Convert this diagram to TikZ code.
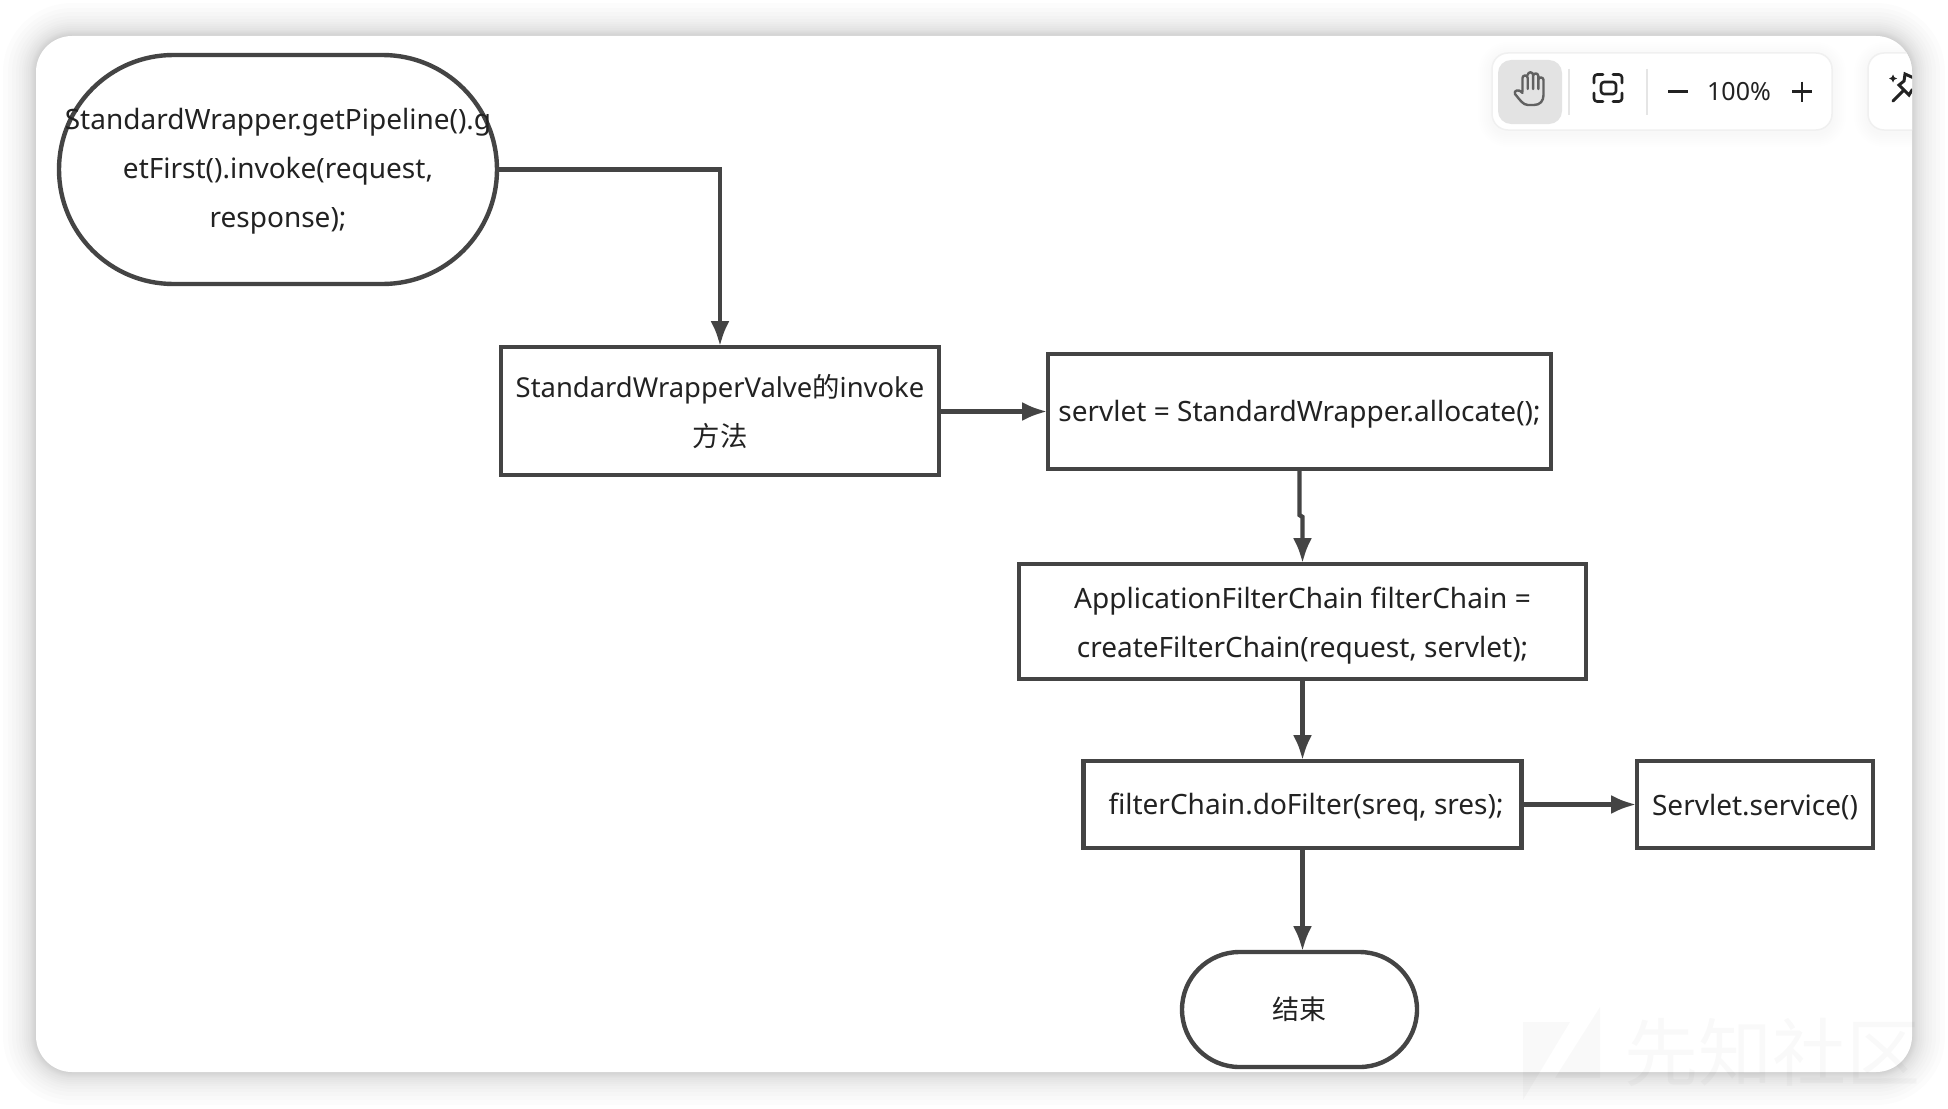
\documentclass[tikz,border=0pt]{standalone}
\usepackage{fontspec}
\setmainfont{Noto Sans}
\newfontfamily\cjk{Noto Sans CJK SC}
\usetikzlibrary{arrows.meta,shapes.misc}
\definecolor{flowline}{HTML}{444444}
\definecolor{flowtext}{HTML}{222222}
\definecolor{iconink}{HTML}{222222}
\newcommand\flowtxt[2][-2.5pt]{\raisebox{#1}[\height][\depth]{#2}}
\tikzset{
  flowbox/.style={draw=flowline,line width=4.4pt,fill=white,rectangle,inner sep=0pt,text=flowtext,align=center,
    font=\fontsize{28}{49}\selectfont},
  flowround/.style={draw=flowline,line width=4.4pt,fill=white,rounded rectangle,inner sep=0pt,text=flowtext},
  flowlabel/.style={inner sep=0pt,text=flowtext,align=center,font=\fontsize{28}{49}\selectfont},
  flowarrow/.style={draw=flowline,line width=4.4pt,line join=miter,shorten >=-1.4pt,-{Latex[length=25pt,width=19pt]}},
  iconstroke/.style={draw=iconink,line width=2.6pt,line cap=round,line join=round},
  toolbarbox/.style={fill=white,draw=black!6,line width=1.5pt,rounded corners=16pt},
  toolsep/.style={draw=black!10,line width=2pt},
}
\begin{document}
\begin{tikzpicture}[x=1pt,y=-1pt]
\useasboundingbox (0,0) rectangle (1948,1108);
\clip (0,0) rectangle (1948,1108);
\fill[white] (0,0) rectangle (1948,1108);
% card shadow
\foreach \i in {33,28,24,20,17,14,12,10,8,6,5,4,3,2,1}{
  \fill[black,opacity=0.011,rounded corners=36pt+\i*1pt] (36-\i,36-\i) rectangle (1912+\i,1072+\i);
}
% card
\fill[white,rounded corners=36pt] (36,36) rectangle (1912,1072);
% watermark
\begin{scope}[black,opacity=0.025]
  \fill (1523,1022) -- (1570,1022) -- (1523,1100) -- cycle;
  \fill (1600,1007) -- (1600,1078) -- (1555,1078) -- cycle;
  \node[inner sep=0pt,font=\cjk\fontsize{74}{74}\selectfont] (mark) at (1772,1052) {先知社区};
\end{scope}
% toolbar
\foreach \i in {14,12,...,2}{
  \fill[black,opacity=0.005,rounded corners=16pt+\i*1pt] (1492-\i,53-\i+3) rectangle (1832+\i,130+\i+3);
}
\draw[toolbarbox] (1492,53) rectangle (1832,130);
\fill[black!11,rounded corners=13pt] (1498,60) rectangle (1562,124);
\draw[toolsep] (1569,69) -- (1569,115);
\draw[toolsep] (1647,69) -- (1647,115);
% hand icon
\draw[draw=black!62,line width=2.4pt,line join=round,line cap=round]
  (1522.5,92) -- (1522.5,78) arc[start angle=180,end angle=360,radius=2.6]
  -- (1527.7,89) (1527.7,75) arc[start angle=180,end angle=360,radius=2.7] -- (1533.1,89)
  (1533.1,76) arc[start angle=180,end angle=360,radius=2.6] -- (1538.3,89)
  (1538.3,80) arc[start angle=180,end angle=360,radius=2.6] -- (1543.5,95)
  .. controls (1543.5,101) and (1540,105) .. (1534,105) -- (1528,105)
  .. controls (1523,105) and (1520,100) .. (1515,94)
  .. controls (1513.5,91) and (1518,88) .. (1522.5,93);
% focus icon
\draw[iconstroke,rounded corners=3pt] (1594,83) -- (1594,74.5) -- (1603,74.5);
\draw[iconstroke,rounded corners=3pt] (1613,74.5) -- (1622,74.5) -- (1622,83);
\draw[iconstroke,rounded corners=3pt] (1594,93) -- (1594,101.5) -- (1603,101.5);
\draw[iconstroke,rounded corners=3pt] (1613,101.5) -- (1622,101.5) -- (1622,93);
\draw[iconstroke,rounded corners=3pt] (1601,82) rectangle (1616,94);
% zoom controls
\draw[iconstroke,line width=2.2pt,line cap=butt] (1668,91.5) -- (1688,91.5);
\node[inner sep=0pt,text=iconink,font=\fontsize{25}{25}\selectfont] (zoomlevel) at (1739,91.5) {100\%};
\draw[iconstroke,line width=2.2pt,line cap=butt] (1792,91.5) -- (1812,91.5) (1802,81.5) -- (1802,101.5);
% second toolbar, cut by the card edge
\begin{scope}
  \clip[rounded corners=36pt] (36,36) rectangle (1912,1072);
  \foreach \i in {14,12,...,2}{
    \fill[black,opacity=0.005,rounded corners=16pt+\i*1pt] (1868-\i,53-\i+3) rectangle (1960,130+\i+3);
  }
  \draw[toolbarbox] (1868,53) rectangle (1960,130);
  \draw[iconstroke,line width=3pt] (1893,101) -- (1903,91);
  \draw[iconstroke,line width=3pt,line join=miter] (1916,79) -- (1905,74) -- (1904,81) -- (1899,85) -- (1909,95) -- (1912,90) -- (1916,90);
  \fill[iconink] (1893,74.5) -- (1894.3,77.2) -- (1897,78.5) -- (1894.3,79.8) -- (1893,82.5) -- (1891.7,79.8) -- (1889,78.5) -- (1891.7,77.2) -- cycle;
\end{scope}
% flow nodes
\node[flowround,minimum width=438pt,minimum height=229pt] (start) at (278,169.5) {};
\node[flowlabel] (startlabel) at (278,171.5) {StandardWrapper.getPipeline().g\\etFirst().invoke(request,\\response);};
\node[flowbox,minimum width=438pt,minimum height=128pt,font=\fontsize{27.4}{49}\selectfont] (valve) at (720,411) {\flowtxt[-0.4pt]{StandardWrapperValve{\cjk 的}invoke}\\\flowtxt[-0.4pt]{\cjk 方法}};
\node[flowbox,minimum width=503pt,minimum height=115pt] (alloc) at (1299.5,411.5) {\flowtxt{servlet = StandardWrapper.allocate();}};
\node[flowbox,minimum width=567pt,minimum height=115pt] (chain) at (1302.5,621.5) {\flowtxt[-3.7pt]{ApplicationFilterChain filterChain =}\\\flowtxt[-3.7pt]{createFilterChain(request, servlet);}};
\node[flowbox,minimum width=438pt,minimum height=87pt] (dofilter) at (1302.5,804.5) {\hspace{7pt}\flowtxt{filterChain.doFilter(sreq, sres);}};
\node[flowbox,minimum width=236pt,minimum height=87pt] (service) at (1755,804.5) {\flowtxt{Servlet.service()}};
\node[flowround,minimum width=235pt,minimum height=115pt,font=\cjk\fontsize{27}{27}\selectfont] (finish) at (1299.5,1009.5) {结束};
% connectors
\coordinate (jogA) at (1299.5,515);
\coordinate (jogB) at (1302.5,517);
\draw[flowarrow] (start.east) -| (valve.north);
\draw[flowarrow] (valve.east |- alloc.west) -- (alloc.west);
\draw[flowarrow] (alloc.south) -- (jogA) -- (jogB) -- (chain.north);
\draw[flowarrow] (chain.south) -- (dofilter.north);
\draw[flowarrow] (dofilter.east) -- (service.west);
\draw[flowarrow] (dofilter.south) -- (dofilter.south |- finish.north);
\end{tikzpicture}
\end{document}
